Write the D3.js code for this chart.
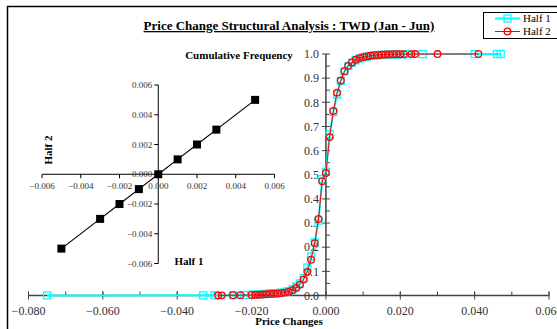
<!DOCTYPE html>
<html>
<head>
<meta charset="utf-8">
<script src="https://cdn.jsdelivr.net/npm/d3@7"></script>
<style>
  html, body { margin: 0; padding: 0; background: #fff; }
  svg { display: block; }
</style>
</head>
<body>
<div id="chart"></div>
<script>
// cumulative frequency of price changes, [price change, cumulative share]
const half1Points = [
  [-0.075, 0.0003], [-0.033, 0.0006], [-0.030, 0.001], [-0.025, 0.0015], [-0.022, 0.002],
  [-0.020, 0.003], [-0.019, 0.004], [-0.018, 0.005], [-0.017, 0.006], [-0.016, 0.007],
  [-0.015, 0.008], [-0.014, 0.009], [-0.013, 0.010], [-0.012, 0.012], [-0.011, 0.015],
  [-0.010, 0.018], [-0.009, 0.025], [-0.008, 0.036], [-0.007, 0.050], [-0.006, 0.072],
  [-0.005, 0.116], [-0.004, 0.161], [-0.003, 0.220], [-0.002, 0.310], [-0.001, 0.482],
  [0.000, 0.512], [0.001, 0.668], [0.002, 0.760], [0.003, 0.832], [0.004, 0.888],
  [0.005, 0.928], [0.006, 0.950], [0.007, 0.964], [0.008, 0.974], [0.009, 0.981],
  [0.010, 0.986], [0.011, 0.989], [0.012, 0.992], [0.013, 0.994], [0.014, 0.995],
  [0.015, 0.996], [0.016, 0.997], [0.017, 0.998], [0.018, 0.998], [0.019, 0.999],
  [0.020, 0.999], [0.022, 0.999], [0.026, 0.9995], [0.040, 0.9997], [0.046, 0.9998],
  [0.047, 1.000]
]

const half2Points = [
  [-0.029, 0.0003], [-0.028, 0.0006], [-0.025, 0.001], [-0.023, 0.0015], [-0.020, 0.002],
  [-0.019, 0.0025], [-0.018, 0.003], [-0.017, 0.004], [-0.016, 0.005], [-0.015, 0.006],
  [-0.014, 0.007], [-0.013, 0.008], [-0.012, 0.010], [-0.011, 0.012], [-0.010, 0.016],
  [-0.009, 0.022], [-0.008, 0.031], [-0.007, 0.045], [-0.006, 0.066], [-0.005, 0.098],
  [-0.004, 0.148], [-0.003, 0.217], [-0.002, 0.317], [-0.001, 0.473], [0.000, 0.507],
  [0.001, 0.656], [0.002, 0.764], [0.003, 0.840], [0.004, 0.890], [0.005, 0.929],
  [0.006, 0.951], [0.007, 0.965], [0.008, 0.976], [0.009, 0.983], [0.010, 0.987],
  [0.011, 0.990], [0.012, 0.993], [0.013, 0.995], [0.014, 0.996], [0.015, 0.997],
  [0.016, 0.998], [0.017, 0.998], [0.018, 0.999], [0.019, 0.999], [0.020, 0.999],
  [0.021, 0.9993], [0.023, 0.9995], [0.024, 0.9997], [0.030, 0.9998], [0.041, 1.000]
]

// inset: half 1 vs half 2 quantiles
const insetHalf1 = [-0.005, -0.003, -0.002, -0.001, 0.000, 0.001, 0.002, 0.003, 0.005]
const insetHalf2 = [-0.005, -0.003, -0.002, -0.001, 0.000, 0.001, 0.002, 0.003, 0.005]

const mainXTicks = [-0.08, -0.06, -0.04, -0.02, 0, 0.02, 0.04, 0.06]
const mainYTicks = [0, 0.1, 0.2, 0.3, 0.4, 0.5, 0.6, 0.7, 0.8, 0.9, 1.0]
const insetTicks = [-0.006, -0.004, -0.002, 0, 0.002, 0.004, 0.006]

const seriesNames = ['Half 1', 'Half 2']
const titleText = 'Price Change Structural Analysis : TWD (Jan - Jun)'

const width = 557
const height = 329
const serif = '"Liberation Serif", "Times New Roman", serif'
const axisColor = '#404040'
const cyan = '#00ffff'
const red = '#ff0000'

const svg = d3.select('#chart')
  .append('svg')
  .attr('width', width)
  .attr('height', height)
  .style('font-family', serif)

// chart area border (right and bottom edges run off the picture)
svg.append('rect')
  .attr('x', 7.5).attr('y', 6.5)
  .attr('width', 600).attr('height', 400)
  .attr('fill', '#fff')
  .attr('stroke', '#000')
  .attr('stroke-width', 1.5)

svg.append('text')
  .attr('x', 289).attr('y', 30)
  .attr('text-anchor', 'middle')
  .attr('font-size', 13)
  .attr('font-weight', 'bold')
  .attr('text-decoration', 'underline')
  .text(titleText)

// ---- main cumulative frequency chart
const x = d3.scaleLinear().domain([-0.08, 0.06]).range([28.5, 549])
const y = d3.scaleLinear().domain([0, 1]).range([295.5, 54])

const main = svg.append('g')

// minor ticks
const xMinor = d3.range(-0.08, 0.0601, 0.01)
main.selectAll('.xminor')
  .data(xMinor)
  .enter().append('line')
  .attr('x1', (d) => x(d)).attr('x2', (d) => x(d))
  .attr('y1', y(0)).attr('y2', y(0) - 4)
  .attr('stroke', axisColor).attr('stroke-width', 1)

main.selectAll('.xmajor')
  .data(mainXTicks)
  .enter().append('line')
  .attr('x1', (d) => x(d)).attr('x2', (d) => x(d))
  .attr('y1', y(0) - 4).attr('y2', y(0) + 4)
  .attr('stroke', axisColor).attr('stroke-width', 1)

const yMinor = d3.range(0.05, 1, 0.1)
main.selectAll('.yminor')
  .data(yMinor)
  .enter().append('line')
  .attr('x1', x(0)).attr('x2', x(0) + 4)
  .attr('y1', (d) => y(d)).attr('y2', (d) => y(d))
  .attr('stroke', axisColor).attr('stroke-width', 1)

main.selectAll('.ymajor')
  .data(mainYTicks)
  .enter().append('line')
  .attr('x1', x(0) - 4).attr('x2', x(0) + 4)
  .attr('y1', (d) => y(d)).attr('y2', (d) => y(d))
  .attr('stroke', axisColor).attr('stroke-width', 1)

main.append('line')
  .attr('x1', x(-0.08)).attr('x2', x(0.06))
  .attr('y1', y(0)).attr('y2', y(0))
  .attr('stroke', axisColor).attr('stroke-width', 1.5)

main.append('line')
  .attr('x1', x(0)).attr('x2', x(0))
  .attr('y1', y(0)).attr('y2', y(1))
  .attr('stroke', axisColor).attr('stroke-width', 1.5)

main.selectAll('.xlabel')
  .data(mainXTicks)
  .enter().append('text')
  .attr('x', (d) => x(d))
  .attr('y', y(0) + 19.5)
  .attr('text-anchor', 'middle')
  .attr('font-size', 12)
  .attr('fill', '#333')
  .text((d) => d3.format('.3f')(d))

main.selectAll('.ylabel')
  .data(mainYTicks)
  .enter().append('text')
  .attr('x', x(0) - 7)
  .attr('y', (d) => y(d))
  .attr('dy', '0.35em')
  .attr('text-anchor', 'end')
  .attr('font-size', 12)
  .attr('fill', '#333')
  .text((d) => d3.format('.1f')(d))

main.append('text')
  .attr('x', 289).attr('y', 324.5)
  .attr('text-anchor', 'middle')
  .attr('font-size', 11)
  .attr('font-weight', 'bold')
  .text('Price Changes')

main.append('text')
  .attr('x', 239).attr('y', 59)
  .attr('text-anchor', 'middle')
  .attr('font-size', 11)
  .attr('font-weight', 'bold')
  .text('Cumulative Frequency')

const line = d3.line().x((d) => x(d[0])).y((d) => y(d[1]))

main.append('path')
  .datum(half1Points)
  .attr('d', line)
  .attr('fill', 'none')
  .attr('stroke', cyan)
  .attr('stroke-width', 2)

main.selectAll('.sq')
  .data(half1Points)
  .enter().append('rect')
  .attr('x', (d) => x(d[0]) - 3.5)
  .attr('y', (d) => y(d[1]) - 3.5)
  .attr('width', 7).attr('height', 7)
  .attr('fill', 'none')
  .attr('stroke', cyan)
  .attr('stroke-width', 1.3)

main.append('path')
  .datum(half2Points)
  .attr('d', line)
  .attr('fill', 'none')
  .attr('stroke', red)
  .attr('stroke-width', 1)

main.selectAll('.circ')
  .data(half2Points)
  .enter().append('circle')
  .attr('cx', (d) => x(d[0]))
  .attr('cy', (d) => y(d[1]))
  .attr('r', 3.3)
  .attr('fill', 'none')
  .attr('stroke', red)
  .attr('stroke-width', 1.3)

// ---- inset: half 1 vs half 2
const ix = d3.scaleLinear().domain([-0.006, 0.006]).range([42, 274.5])
const iy = d3.scaleLinear().domain([-0.006, 0.006]).range([263.5, 85])
const inset = svg.append('g')

inset.append('line')
  .attr('x1', ix(-0.006)).attr('x2', ix(0.006))
  .attr('y1', iy(0)).attr('y2', iy(0))
  .attr('stroke', '#000').attr('stroke-width', 1)

inset.append('line')
  .attr('x1', ix(0)).attr('x2', ix(0))
  .attr('y1', iy(-0.006)).attr('y2', iy(0.006))
  .attr('stroke', '#000').attr('stroke-width', 1)

inset.selectAll('.ixt')
  .data(insetTicks)
  .enter().append('line')
  .attr('x1', (d) => ix(d)).attr('x2', (d) => ix(d))
  .attr('y1', iy(0)).attr('y2', iy(0) + 4)
  .attr('stroke', '#000')

inset.selectAll('.iyt')
  .data(insetTicks)
  .enter().append('line')
  .attr('x1', ix(0) - 4).attr('x2', ix(0))
  .attr('y1', (d) => iy(d)).attr('y2', (d) => iy(d))
  .attr('stroke', '#000')

inset.selectAll('.ixl')
  .data(insetTicks)
  .enter().append('text')
  .attr('x', (d) => ix(d))
  .attr('y', iy(0) + 15)
  .attr('text-anchor', 'middle')
  .attr('font-size', 9)
  .attr('fill', '#333')
  .text((d) => d3.format('.3f')(d))

inset.selectAll('.iyl')
  .data(insetTicks)
  .enter().append('text')
  .attr('x', ix(0) - 6)
  .attr('y', (d) => iy(d))
  .attr('dy', '0.35em')
  .attr('text-anchor', 'end')
  .attr('font-size', 9)
  .attr('fill', '#333')
  .text((d) => d3.format('.3f')(d))

const pairs = insetHalf1.map((v, i) => [v, insetHalf2[i]])

inset.append('path')
  .datum(pairs)
  .attr('d', d3.line().x((d) => ix(d[0])).y((d) => iy(d[1])))
  .attr('fill', 'none')
  .attr('stroke', '#000')
  .attr('stroke-width', 1.2)

inset.selectAll('.isq')
  .data(pairs)
  .enter().append('rect')
  .attr('x', (d) => ix(d[0]) - 4)
  .attr('y', (d) => iy(d[1]) - 4)
  .attr('width', 8).attr('height', 8)
  .attr('fill', '#000')

inset.append('text')
  .attr('x', 189).attr('y', 265)
  .attr('text-anchor', 'middle')
  .attr('font-size', 11)
  .attr('font-weight', 'bold')
  .text('Half 1')

inset.append('text')
  .attr('transform', 'translate(52,150) rotate(-90)')
  .attr('text-anchor', 'middle')
  .attr('font-size', 11)
  .attr('font-weight', 'bold')
  .text('Half 2')

// ---- legend
const legend = svg.append('g')
legend.append('rect')
  .attr('x', 483.5).attr('y', 12.5)
  .attr('width', 90).attr('height', 26)
  .attr('fill', '#fff')
  .attr('stroke', '#000')
  .attr('stroke-width', 1)

seriesNames.forEach((name, i) => {
  const ly = 18.5 + i * 13
  const color = i === 0 ? cyan : red
  legend.append('line')
    .attr('x1', 495).attr('x2', 520)
    .attr('y1', ly).attr('y2', ly)
    .attr('stroke', color)
    .attr('stroke-width', i === 0 ? 2 : 1)
  if (i === 0) {
    legend.append('rect')
      .attr('x', 504).attr('y', ly - 3.5)
      .attr('width', 7).attr('height', 7)
      .attr('fill', 'none').attr('stroke', color).attr('stroke-width', 1.3)
  } else {
    legend.append('circle')
      .attr('cx', 507.5).attr('cy', ly).attr('r', 3.3)
      .attr('fill', 'none').attr('stroke', color).attr('stroke-width', 1.3)
  }
  legend.append('text')
    .attr('x', 523).attr('y', ly)
    .attr('dy', '0.35em')
    .attr('font-size', 11)
    .text(name)
})
</script>
</body>
</html>
